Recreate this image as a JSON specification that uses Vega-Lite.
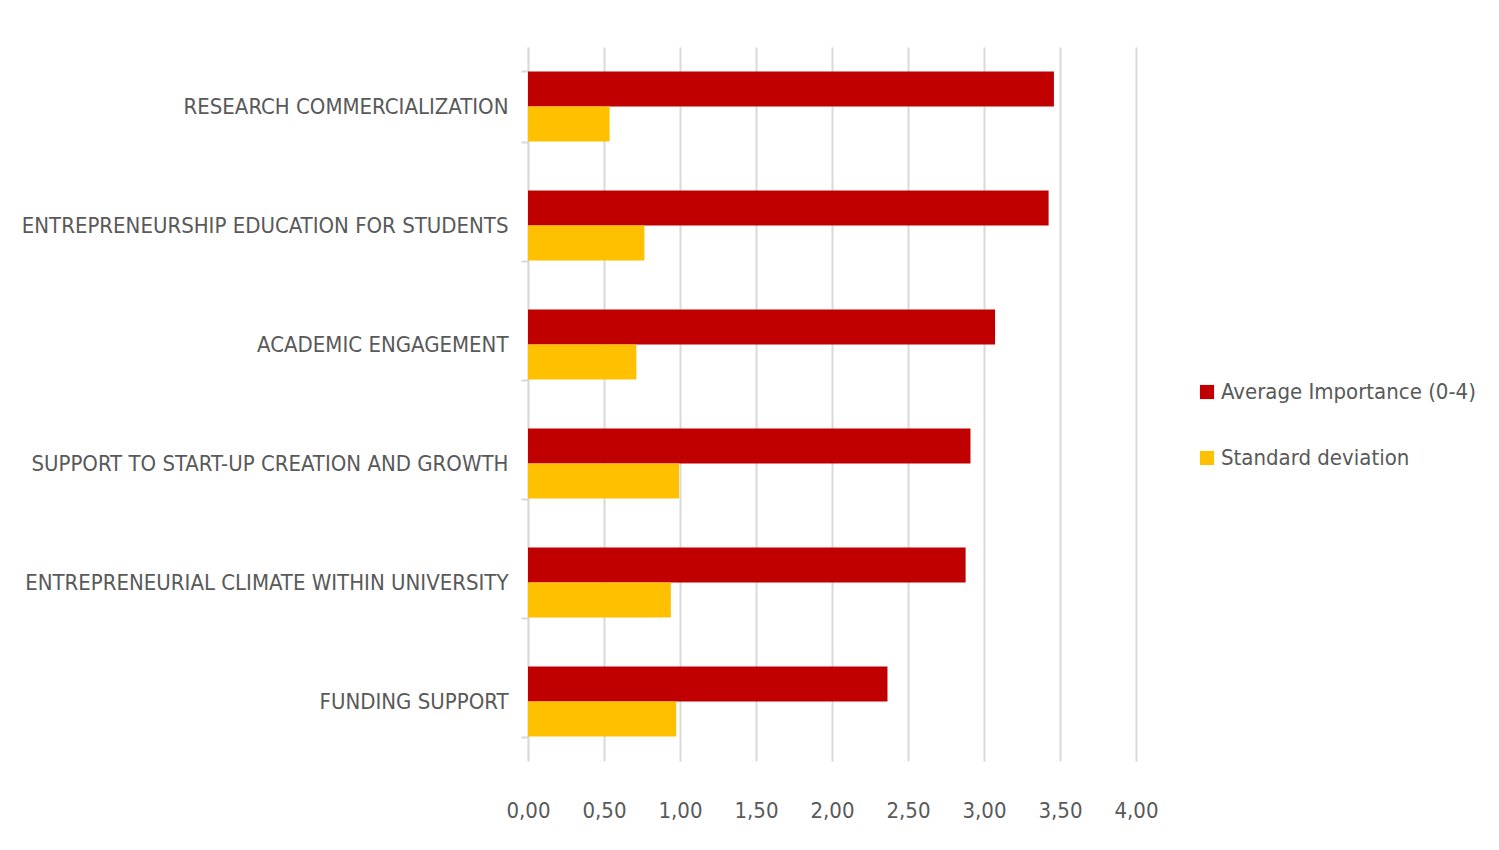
{
  "$schema": "https://vega.github.io/schema/vega-lite/v6.json",
  "autosize": {"type": "none"},
  "width": 608,
  "height": 714,
  "padding": {"left": 528, "top": 47, "right": 363, "bottom": 89},
  "background": "white",
  "data": {
    "values": [
      {"area": "RESEARCH COMMERCIALIZATION", "series": "Average Importance (0-4)", "value": 3.46},
      {"area": "RESEARCH COMMERCIALIZATION", "series": "Standard deviation", "value": 0.537},
      {"area": "ENTREPRENEURSHIP EDUCATION FOR STUDENTS", "series": "Average Importance (0-4)", "value": 3.425},
      {"area": "ENTREPRENEURSHIP EDUCATION FOR STUDENTS", "series": "Standard deviation", "value": 0.766},
      {"area": "ACADEMIC ENGAGEMENT", "series": "Average Importance (0-4)", "value": 3.073},
      {"area": "ACADEMIC ENGAGEMENT", "series": "Standard deviation", "value": 0.713},
      {"area": "SUPPORT TO START-UP CREATION AND GROWTH", "series": "Average Importance (0-4)", "value": 2.911},
      {"area": "SUPPORT TO START-UP CREATION AND GROWTH", "series": "Standard deviation", "value": 0.994},
      {"area": "ENTREPRENEURIAL CLIMATE WITHIN UNIVERSITY", "series": "Average Importance (0-4)", "value": 2.879},
      {"area": "ENTREPRENEURIAL CLIMATE WITHIN UNIVERSITY", "series": "Standard deviation", "value": 0.94},
      {"area": "FUNDING SUPPORT", "series": "Average Importance (0-4)", "value": 2.365},
      {"area": "FUNDING SUPPORT", "series": "Standard deviation", "value": 0.975}
    ]
  },
  "mark": {"type": "bar"},
  "encoding": {
    "y": {
      "field": "area",
      "type": "nominal",
      "sort": null,
      "title": null,
      "scale": {"paddingInner": 0.41, "paddingOuter": 0.205},
      "axis": {
        "tickBand": "extent",
        "domainColor": "#d9d9d9",
        "domainWidth": 1.5,
        "tickColor": "#d9d9d9",
        "tickWidth": 2,
        "tickSize": 7,
        "labelPadding": 13,
        "labelFontSize": 22,
        "labelColor": "#595959",
        "labelLimit": 600
      }
    },
    "yOffset": {
      "field": "series",
      "type": "nominal",
      "sort": ["Average Importance (0-4)", "Standard deviation"]
    },
    "x": {
      "field": "value",
      "type": "quantitative",
      "title": null,
      "scale": {"domain": [0, 4], "nice": false},
      "axis": {
        "values": [0, 0.5, 1, 1.5, 2, 2.5, 3, 3.5, 4],
        "labelExpr": "replace(format(datum.value, '.2f'), '.', ',')",
        "labelOverlap": false,
        "labelFlush": false,
        "domain": false,
        "ticks": false,
        "grid": true,
        "gridColor": "#d9d9d9",
        "gridWidth": 2,
        "labelPadding": 39,
        "labelFontSize": 22,
        "labelColor": "#595959"
      }
    },
    "color": {
      "field": "series",
      "type": "nominal",
      "title": null,
      "scale": {
        "domain": ["Average Importance (0-4)", "Standard deviation"],
        "range": ["#c00000", "#ffc000"]
      },
      "legend": {
        "orient": "none",
        "legendX": 668,
        "legendY": 334,
        "symbolType": "square",
        "symbolSize": 200,
        "symbolStrokeWidth": 0,
        "labelFontSize": 22,
        "labelColor": "#595959",
        "labelOffset": 3,
        "rowPadding": 44,
        "labelLimit": 400
      }
    }
  },
  "config": {
    "font": "DejaVu Sans Condensed, sans-serif",
    "view": {"stroke": null}
  }
}
